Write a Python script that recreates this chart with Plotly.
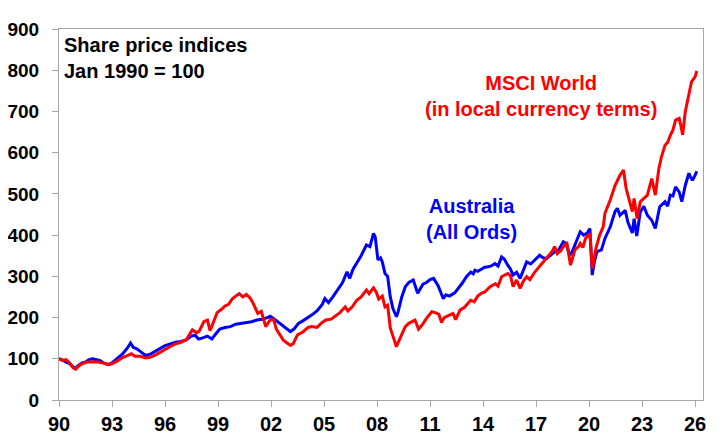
import plotly.graph_objects as go

aus_years = [1990.0, 1990.2, 1990.4, 1990.6, 1990.8, 1990.95, 1991.1, 1991.3, 1991.5, 1991.7, 1991.9,
             1992.1, 1992.3, 1992.6, 1992.8, 1993.0, 1993.3, 1993.6, 1993.85, 1994.05, 1994.2, 1994.4,
             1994.6, 1994.9, 1995.2, 1995.5, 1995.8, 1996.0, 1996.3, 1996.6, 1996.9, 1997.2, 1997.5,
             1997.7, 1997.9, 1998.1, 1998.4, 1998.65, 1998.9, 1999.1, 1999.4, 1999.7, 2000.0, 2000.3,
             2000.6, 2000.9, 2001.2, 2001.5, 2001.8, 2001.95, 2002.2, 2002.5, 2002.8, 2003.1, 2003.3,
             2003.55, 2003.8, 2004.1, 2004.3, 2004.6, 2004.9, 2005.05, 2005.25, 2005.5, 2005.8, 2006.05,
             2006.3, 2006.45, 2006.65, 2006.85, 2007.1, 2007.4, 2007.6, 2007.8, 2007.9, 2008.05, 2008.2,
             2008.3, 2008.45, 2008.6, 2008.75, 2008.9, 2009.1, 2009.2, 2009.4, 2009.6, 2009.8, 2010.05,
             2010.3, 2010.45, 2010.6, 2010.8, 2011.0, 2011.2, 2011.45, 2011.6, 2011.75, 2011.9, 2012.1,
             2012.4, 2012.6, 2012.85, 2013.07, 2013.3, 2013.45, 2013.54, 2013.7, 2013.9, 2014.1, 2014.3,
             2014.5, 2014.67, 2014.85, 2015.05, 2015.2, 2015.4, 2015.55, 2015.7, 2015.9, 2016.1, 2016.3,
             2016.47, 2016.7, 2016.94, 2017.2, 2017.4, 2017.6, 2017.85, 2018.07, 2018.3, 2018.54, 2018.7,
             2018.9, 2019.05, 2019.2, 2019.5, 2019.7, 2019.9, 2020.05, 2020.18, 2020.3, 2020.45, 2020.7,
             2020.9, 2021.2, 2021.47, 2021.6, 2021.75, 2022.05, 2022.2, 2022.45, 2022.55, 2022.7, 2022.9,
             2023.1, 2023.3, 2023.55, 2023.75, 2024.0, 2024.3, 2024.45, 2024.6, 2024.75, 2024.9, 2025.1,
             2025.25, 2025.45, 2025.65, 2025.75, 2025.85, 2026.0, 2026.1]
aus_values = [100, 97, 92, 88, 80, 78, 84, 90, 92, 98, 100,
              98, 96, 88, 86, 90, 100, 112, 125, 138, 128, 124,
              118, 108, 112, 120, 126, 132, 136, 140, 142, 146, 155,
              157, 148, 150, 155, 148, 162, 172, 176, 178, 184, 186,
              188, 190, 194, 196, 200, 203, 196, 186, 178, 166, 172,
              186, 192, 200, 206, 216, 232, 246, 236, 250, 271, 285,
              311, 295, 318, 331, 350, 376, 372, 404, 395, 340, 345,
              335, 307, 300, 250, 222, 202, 215, 250, 275, 285, 291,
              259, 270, 281, 285, 292, 295, 278, 262, 246, 255, 252,
              260, 270, 285, 300, 310, 306, 315, 312, 318, 322, 323,
              326, 331, 325, 347, 342, 327, 318, 303, 310, 295, 318,
              335, 330, 339, 351, 345, 343, 352, 360, 365, 384, 380,
              351, 360, 376, 408, 400, 405, 416, 303, 335, 360, 364,
              392, 420, 457, 465, 448, 460, 431, 405, 440, 398, 456,
              470, 448, 436, 416, 469, 481, 470, 497, 495, 517, 505,
              481, 521, 550, 540, 533, 545, 555]

world_years = [1990.0, 1990.2, 1990.4, 1990.6, 1990.8, 1990.95, 1991.1, 1991.3, 1991.6, 1991.9, 1992.2,
               1992.5, 1992.8, 1993.0, 1993.3, 1993.6, 1993.9, 1994.1, 1994.3, 1994.6, 1994.9, 1995.2,
               1995.5, 1995.8, 1996.0, 1996.3, 1996.6, 1996.9, 1997.2, 1997.4, 1997.55, 1997.8, 1997.95,
               1998.2, 1998.4, 1998.55, 1998.75, 1998.95, 1999.2, 1999.4, 1999.6, 1999.8, 2000.0, 2000.2,
               2000.4, 2000.6, 2000.8, 2000.95, 2001.1, 2001.25, 2001.45, 2001.7, 2001.95, 2002.15, 2002.3,
               2002.55, 2002.7, 2002.85, 2003.1, 2003.25, 2003.5, 2003.8, 2004.1, 2004.3, 2004.6, 2004.9,
               2005.1, 2005.4, 2005.7, 2005.9, 2006.2, 2006.35, 2006.6, 2006.85, 2007.1, 2007.4, 2007.55,
               2007.8, 2007.95, 2008.1, 2008.3, 2008.45, 2008.6, 2008.75, 2008.9, 2009.1, 2009.2, 2009.4,
               2009.6, 2009.8, 2010.0, 2010.15, 2010.35, 2010.55, 2010.8, 2011.1, 2011.3, 2011.5, 2011.65,
               2011.8, 2012.1, 2012.3, 2012.45, 2012.7, 2012.95, 2013.3, 2013.5, 2013.7, 2013.9, 2014.1,
               2014.4, 2014.7, 2014.85, 2015.05, 2015.4, 2015.55, 2015.7, 2015.9, 2016.1, 2016.3, 2016.47,
               2016.65, 2016.94, 2017.2, 2017.4, 2017.65, 2017.9, 2018.05, 2018.2, 2018.4, 2018.6, 2018.75,
               2018.95, 2019.2, 2019.4, 2019.5, 2019.65, 2019.8, 2020.05, 2020.18, 2020.4, 2020.6, 2020.8,
               2020.9, 2021.2, 2021.47, 2021.75, 2021.95, 2022.1, 2022.3, 2022.45, 2022.55, 2022.72, 2022.9,
               2023.1, 2023.3, 2023.55, 2023.75, 2023.95, 2024.1, 2024.3, 2024.45, 2024.6, 2024.75, 2024.9,
               2025.1, 2025.2, 2025.3, 2025.45, 2025.55, 2025.7, 2025.8, 2026.0, 2026.1]
world_values = [100, 96, 98, 90, 78, 75, 82, 88, 92, 93, 92,
                90, 86, 88, 95, 103, 108, 112, 106, 106, 102, 104,
                110, 118, 124, 130, 136, 140, 146, 158, 170, 163, 168,
                190, 194, 168, 192, 212, 220, 228, 232, 245, 252, 258,
                250, 256, 248, 238, 224, 210, 215, 178, 194, 195, 172,
                155, 145, 140, 133, 136, 158, 165, 176, 178, 176, 188,
                194, 196, 206, 212, 226, 216, 226, 242, 250, 267, 258,
                272, 262, 245, 252, 226, 230, 175, 155, 129, 140, 160,
                178, 186, 190, 194, 172, 182, 198, 214, 212, 208, 188,
                200, 206, 210, 195, 218, 225, 242, 238, 252, 259, 262,
                275, 282, 276, 299, 307, 302, 275, 291, 271, 290, 299,
                292, 311, 325, 335, 348, 360, 372, 355, 362, 376, 380,
                327, 364, 372, 380, 370, 392, 404, 318, 370, 400, 420,
                453, 485, 520, 545, 558, 513, 481, 457, 489, 440, 481,
                490, 497, 537, 497, 561, 590, 618, 625, 642, 655, 679,
                683, 665, 643, 700, 723, 750, 772, 784, 798]

tick_years = [1990, 1993, 1996, 1999, 2002, 2005, 2008, 2011, 2014, 2017, 2020, 2023, 2026]
tick_labels = ["90", "93", "96", "99", "02", "05", "08", "11", "14", "17", "20", "23", "26"]
y_ticks = [0, 100, 200, 300, 400, 500, 600, 700, 800, 900]

FONT = "Liberation Sans, Arial, sans-serif"
AXIS_COLOR = "#A6A6A6"

fig = go.Figure()
fig.add_trace(go.Scatter(x=aus_years, y=aus_values, mode="lines",
                         line=dict(color="#0000FF", width=3), name="Australia (All Ords)"))
fig.add_trace(go.Scatter(x=world_years, y=world_values, mode="lines",
                         line=dict(color="#FF0000", width=3), name="MSCI World"))

# the page body adds an 8px margin, so the figure is sized to fit inside the window
fig.update_layout(
    width=716, height=433,
    margin=dict(l=51, r=21, t=21, b=41),
    paper_bgcolor="white", plot_bgcolor="white",
    showlegend=False,
    font=dict(family=FONT, color="black"),
)
fig.update_xaxes(
    range=[1990, 2026.45], tickvals=tick_years, ticktext=tick_labels,
    showgrid=False, zeroline=False, automargin=False,
    showline=True, linecolor=AXIS_COLOR, linewidth=1, mirror=True,
    ticks="outside", ticklen=6, tickcolor=AXIS_COLOR,
    tickfont=dict(family=FONT, size=20, weight="bold", color="black"),
)
fig.update_yaxes(
    range=[0, 900], tickvals=y_ticks,
    showgrid=False, zeroline=False, automargin=False,
    showline=True, linecolor=AXIS_COLOR, linewidth=1, mirror=True,
    ticks="outside", ticklen=6, tickcolor=AXIS_COLOR,
    tickfont=dict(family=FONT, size=19, weight="bold", color="black"),
    ticklabelstandoff=9,
)

fig.add_annotation(xref="paper", yref="paper", x=0.004, y=0.993, xanchor="left", yanchor="top",
                   text="Share price indices<br>Jan 1990 = 100", showarrow=False, align="left",
                   font=dict(family=FONT, size=20, weight="bold", color="black"))
fig.add_annotation(x=2017.3, y=738, xanchor="center", yanchor="middle",
                   text="MSCI World<br>(in local currency terms)", showarrow=False, align="center",
                   font=dict(family=FONT, size=20, weight="bold", color="#FF0000"))
fig.add_annotation(x=2013.35, y=438, xanchor="center", yanchor="middle",
                   text="Australia<br>(All Ords)", showarrow=False, align="center",
                   font=dict(family=FONT, size=20, weight="bold", color="#0000FF"))

fig.write_html("out.html")
